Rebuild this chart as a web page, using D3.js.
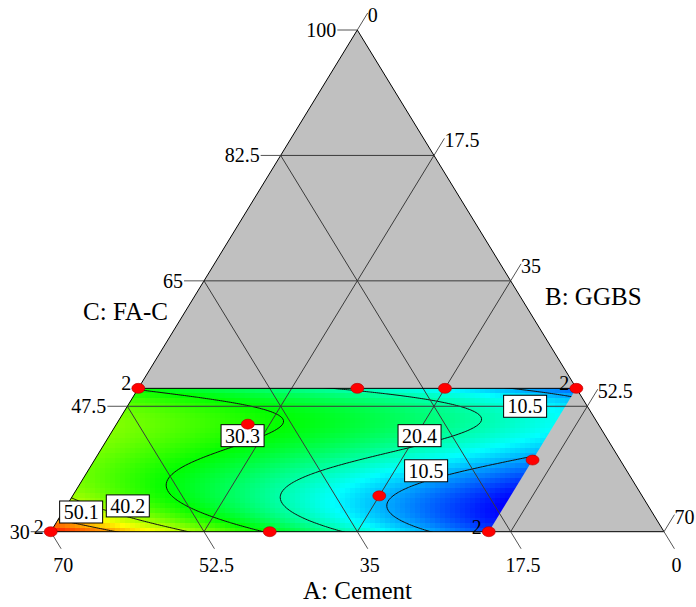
<!DOCTYPE html>
<html><head><meta charset="utf-8">
<script src="https://cdn.jsdelivr.net/npm/d3@7"></script>
<style>body{margin:0;background:#fff}svg{display:block}</style>
</head><body>
<svg id="chart" width="696" height="607"></svg>
<script>
// ---- Mixture components (percent) ----
const axisNames = ["A: Cement", "B: GGBS", "C: FA-C"];
const cementTicks = [70, 52.5, 35, 17.5, 0];
const ggbsTicks = [0, 17.5, 35, 52.5, 70];
const facTicks = [30, 47.5, 65, 82.5, 100];

// Constrained design space: GGBS 0-50, FA-C 30-50, cement = remainder
const ggbsRange = [0, 50];
const facRange = [30, 50];

// Fitted response model in coded units b = GGBS/50, c = (FA-C - 30)/20
const termPowerB = [0, 1, 0, 2, 1, 0, 3, 2, 1, 0, 4, 3, 2, 1, 0];
const termPowerC = [0, 0, 1, 0, 1, 2, 0, 1, 2, 3, 0, 1, 2, 3, 4];
const termCoefficients = [59.327, -62.893, -127.525, 6.835, 92.978, 224.931,
  -3.464, -5.881, -41.257, -115.232, 5.017, -15.508, 13.215, -12.821, -11.786];

// Response range and contour levels
const responseRange = [0.6, 60.0];
const contourLevels = [10.5, 20.4, 30.3, 40.2, 50.1];

// Contour labels: level and the mix (GGBS, FA-C) where each label sits
const labelLevels = [50.1, 40.2, 30.3, 20.4, 10.5, 10.5];
const labelGGBS = [2.1, 7.0, 15.2, 35.4, 38.6, 45.4];
const labelFAC = [32.75, 33.6, 43.4, 43.4, 38.5, 47.5];

// Design points (A, B, C) with replicate counts
const pointCement = [50, 25, 15, 0, 40, 45, 30, 10, 20, 70];
const pointGGBS = [0, 25, 35, 50, 15, 25, 35, 50, 50, 0];
const pointFAC = [50, 50, 50, 50, 45, 30, 35, 40, 30, 30];
const pointReplicates = [2, 1, 1, 2, 1, 1, 1, 1, 2, 2];

// ---- Layout ----
const W = 696, H = 607;
const apex = [357.3, 30], cornerA = [50.7, 531.7], cornerB = [664, 531.7];
const serif = "'Liberation Serif','Times New Roman',serif";

const toPseudoAB = d3.scaleLinear().domain([0, 70]).range([0, 1]);
const toPseudoC = d3.scaleLinear().domain([30, 100]).range([0, 1]);

// ternary projection of (GGBS, FA-C); cement is the remainder
function project(B, C) {
  const a = toPseudoAB(100 - B - C), b = toPseudoAB(B), c = toPseudoC(C);
  return [a * cornerA[0] + b * cornerB[0] + c * apex[0],
          a * cornerA[1] + b * cornerB[1] + c * apex[1]];
}
function unproject(x, y) {
  const c = (cornerA[1] - y) / (cornerA[1] - apex[1]);
  const b = (x - cornerA[0] - c * (apex[0] - cornerA[0])) / (cornerB[0] - cornerA[0]);
  return [toPseudoAB.invert(b), toPseudoC.invert(c)];
}

const codeB = d3.scaleLinear().domain(ggbsRange).range([0, 1]);
const codeC = d3.scaleLinear().domain(facRange).range([0, 1]);
function response(B, C) {
  const b = codeB(B), c = codeC(C);
  let s = 0;
  for (let i = 0; i < termCoefficients.length; i++)
    s += termCoefficients[i] * Math.pow(b, termPowerB[i]) * Math.pow(c, termPowerC[i]);
  return s;
}

const span = responseRange[1] - responseRange[0];
const color = d3.scaleLinear()
  .domain(d3.range(5).map(k => responseRange[0] + span * k / 4))
  .range(["#0000ff", "#00ffff", "#00ff00", "#ffff00", "#ff0000"])
  .clamp(true);

const svg = d3.select("#chart");

// full simplex
svg.append("path")
  .attr("d", "M" + [apex, cornerA, cornerB].join("L") + "Z")
  .attr("fill", "#c0c0c0");

// design region
const region = [project(ggbsRange[0], facRange[1]), project(ggbsRange[1], facRange[1]),
                project(ggbsRange[1], facRange[0]), project(ggbsRange[0], facRange[0])];
svg.append("clipPath").attr("id", "region-clip")
  .append("path").attr("d", "M" + region.join("L") + "Z");
const field = svg.append("g").attr("clip-path", "url(#region-clip)");

// colour raster
const cell = 5;
const cells = [];
const x0 = Math.floor(d3.min(region, p => p[0])), x1 = Math.ceil(d3.max(region, p => p[0]));
const y0 = Math.floor(region[0][1]), y1 = Math.ceil(region[3][1]);
for (let y = y0; y < y1; y += cell) {
  for (let x = x0; x < x1; x += cell) {
    let [B, C] = unproject(x + cell / 2, y + cell / 2);
    if (B < ggbsRange[0] - 4 || B > ggbsRange[1] + 4) continue;
    B = Math.max(ggbsRange[0], Math.min(ggbsRange[1], B));
    C = Math.max(facRange[0], Math.min(facRange[1], C));
    cells.push({x, y, v: response(B, C)});
  }
}
field.append("g").attr("shape-rendering", "crispEdges")
  .selectAll("rect").data(cells).join("rect")
  .attr("x", d => d.x).attr("y", d => d.y)
  .attr("width", cell).attr("height", cell)
  .attr("fill", d => color(d.v));

// contour lines
const step = 0.25, gB0 = ggbsRange[0] - 2.5, gC0 = facRange[0] - 1;
const nx = Math.round((ggbsRange[1] - ggbsRange[0] + 5) / step) + 1;
const ny = Math.round((facRange[1] - facRange[0] + 2) / step) + 1;
const grid = new Array(nx * ny);
for (let j = 0; j < ny; j++)
  for (let i = 0; i < nx; i++)
    grid[j * nx + i] = response(gB0 + i * step, gC0 + j * step);
const gridToScreen = d3.geoTransform({
  point(x, y) {
    const p = project(gB0 + (x - 0.5) * step, gC0 + (y - 0.5) * step);
    this.stream.point(p[0], p[1]);
  }
});
field.selectAll("path.contour")
  .data(d3.contours().size([nx, ny]).thresholds(contourLevels)(grid))
  .join("path").attr("class", "contour")
  .attr("d", d3.geoPath(gridToScreen))
  .attr("fill", "none").attr("stroke", "#111").attr("stroke-width", 1);

// grid lines
const gridColor = "#3a3a3a";
const gridLines = [];
facTicks.slice(1, -1).forEach(C => gridLines.push([project(0, C), project(100 - C, C)]));
cementTicks.slice(1, -1).forEach(A => gridLines.push([project(0, 100 - A), project(70 - A, 30)]));
ggbsTicks.slice(1, -1).forEach(B => gridLines.push([project(B, 100 - B), project(B, 30)]));
svg.append("g").selectAll("line").data(gridLines).join("line")
  .attr("x1", d => d[0][0]).attr("y1", d => d[0][1])
  .attr("x2", d => d[1][0]).attr("y2", d => d[1][1])
  .attr("stroke", gridColor).attr("stroke-width", 1);

// outlines
svg.append("path")
  .attr("d", "M" + [apex, cornerA, cornerB].join("L") + "Z")
  .attr("fill", "none").attr("stroke", "#000").attr("stroke-width", 1);
svg.append("line")
  .attr("x1", region[0][0]).attr("y1", region[0][1])
  .attr("x2", region[1][0]).attr("y2", region[1][1])
  .attr("stroke", "#000").attr("stroke-width", 1);

// ticks and tick labels
const tickLen = 20;
const unit = (p, q) => { const dx = q[0] - p[0], dy = q[1] - p[1], l = Math.hypot(dx, dy); return [dx / l, dy / l]; };
const dirA = unit(apex, cornerB), dirB = unit(cornerA, apex);
const ticks = [];
facTicks.forEach(C => {
  const p = project(0, C);
  ticks.push({p, q: [p[0] - tickLen, p[1]], label: String(C), tx: p[0] - tickLen - 1, ty: p[1] + 7, anchor: "end"});
});
cementTicks.forEach(A => {
  const p = project(70 - A, 30), q = [p[0] + dirA[0] * tickLen, p[1] + dirA[1] * tickLen];
  ticks.push({p, q, label: String(A), tx: q[0] + 2, ty: q[1] + 23, anchor: "middle"});
});
ggbsTicks.forEach(B => {
  const p = project(B, 100 - B), q = [p[0] + dirB[0] * tickLen, p[1] + dirB[1] * tickLen];
  ticks.push({p, q, label: String(B), tx: q[0], ty: q[1] + 9, anchor: "start"});
});
const tg = svg.append("g");
tg.selectAll("line").data(ticks).join("line")
  .attr("x1", d => d.p[0]).attr("y1", d => d.p[1])
  .attr("x2", d => d.q[0]).attr("y2", d => d.q[1])
  .attr("stroke", "#555").attr("stroke-width", 1);
tg.selectAll("text").data(ticks).join("text")
  .attr("x", d => d.tx).attr("y", d => d.ty)
  .attr("text-anchor", d => d.anchor)
  .attr("font-family", serif).attr("font-size", 20).attr("fill", "#000")
  .text(d => d.label);

// contour value labels
const lg = svg.append("g");
labelLevels.forEach((v, i) => {
  const p = project(labelGGBS[i], labelFAC[i]);
  const t = lg.append("text").attr("x", p[0]).attr("y", p[1] + 7)
    .attr("text-anchor", "middle").attr("font-family", serif).attr("font-size", 20)
    .text(v.toFixed(1));
  const w = t.node().getBBox().width + 8;
  lg.insert("rect", "text:last-child")
    .attr("x", p[0] - w / 2).attr("y", p[1] - 11).attr("width", w).attr("height", 22)
    .attr("fill", "#fff").attr("stroke", "#000").attr("stroke-width", 1);
});

// design points
const points = pointCement.map((a, i) => ({p: project(pointGGBS[i], pointFAC[i]), n: pointReplicates[i]}));
const pg = svg.append("g");
pg.selectAll("ellipse").data(points).join("ellipse")
  .attr("cx", d => d.p[0]).attr("cy", d => d.p[1])
  .attr("rx", 6.5).attr("ry", 5)
  .attr("fill", "#ff0000").attr("stroke", "#b00000").attr("stroke-width", 0.6);
pg.selectAll("text").data(points.filter(d => d.n > 1)).join("text")
  .attr("x", d => d.p[0] - 7).attr("y", d => d.p[1] + 2)
  .attr("text-anchor", "end").attr("font-family", serif).attr("font-size", 20)
  .text(d => d.n);

// axis titles
const titles = [
  {text: axisNames[0], x: 357.5, y: 599, anchor: "middle"},
  {text: axisNames[1], x: 545, y: 305, anchor: "start"},
  {text: axisNames[2], x: 168, y: 320, anchor: "end"}
];
svg.append("g").selectAll("text").data(titles).join("text")
  .attr("x", d => d.x).attr("y", d => d.y).attr("text-anchor", d => d.anchor)
  .attr("font-family", serif).attr("font-size", 25).attr("fill", "#000")
  .text(d => d.text);
</script>
</body></html>
